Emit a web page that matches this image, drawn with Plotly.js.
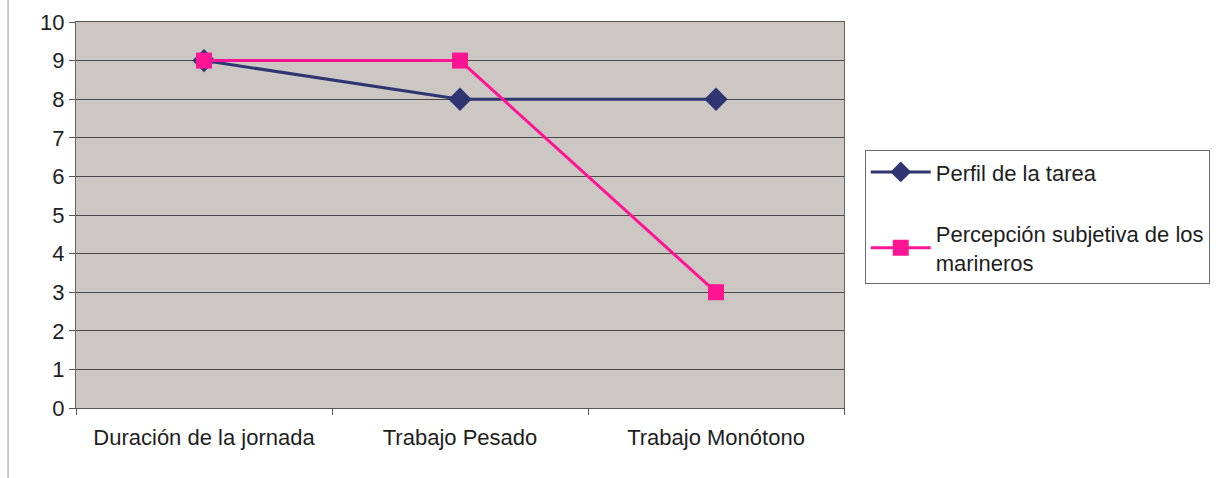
<!DOCTYPE html>
<html>
<head>
<meta charset="utf-8">
<script src="https://cdn.plot.ly/plotly-3.0.1.min.js"></script>
<style>html,body{margin:0;padding:0;background:#fff;}#chart{width:1222px;height:478px;}</style>
</head>
<body>
<div id="chart"></div>
<script>
const categories = ["Duración de la jornada", "Trabajo Pesado", "Trabajo Monótono"];
const perfilTarea = [9, 8, 8];
const percepcionMarineros = [9, 9, 3];
const seriesNames = ["Perfil de la tarea", "Percepción subjetiva de los<br>marineros"];
const yTicks = [0, 1, 2, 3, 4, 5, 6, 7, 8, 9, 10];

const font = {family: "Liberation Sans, Arial, sans-serif", size: 22, color: "#1e1e1e"};

const traces = [
  {
    x: categories, y: perfilTarea, name: seriesNames[0], type: "scatter", mode: "lines+markers",
    line: {color: "#2e3570", width: 3},
    marker: {symbol: "diamond", size: 18, color: "#2e3570"},
    legendgroup: "a"
  },
  {
    x: categories, y: percepcionMarineros, name: seriesNames[1], type: "scatter", mode: "lines+markers",
    line: {color: "#ff1493", width: 3},
    marker: {symbol: "square", size: 16, color: "#ff1493"},
    legendgroup: "b"
  }
];

const layout = {
  width: 1222, height: 478,
  margin: {l: 76, r: 376, t: 22, b: 70},
  paper_bgcolor: "#ffffff",
  plot_bgcolor: "#ccc7c3",
  font: font,
  showlegend: true,
  legend: {
    x: 1.027, y: 0.668, xanchor: "left", yanchor: "top",
    bgcolor: "#ffffff", bordercolor: "#6a6a6a", borderwidth: 1,
    font: font, traceorder: "grouped", tracegroupgap: 30, itemwidth: 60
  },
  xaxis: {
    type: "category", range: [-0.5, 2.5],
    showgrid: false, showline: true, linecolor: "#555", linewidth: 1, mirror: true,
    ticks: "outside", ticklen: 6, tickcolor: "#555", tickson: "boundaries",
    tickfont: font, ticklabelstandoff: 10
  },
  yaxis: {
    range: [0, 10], tickvals: yTicks, ticktext: yTicks.map(String),
    showgrid: true, gridcolor: "#4a4a4a", gridwidth: 1,
    showline: true, linecolor: "#666", linewidth: 1, mirror: true,
    ticks: "outside", ticklen: 6, tickcolor: "#555",
    zeroline: false, tickfont: font
  },
  shapes: [
    {type: "line", xref: "paper", yref: "paper", x0: -0.0885, x1: -0.0885, y0: -0.2, y1: 1.06,
     line: {color: "#9a9a9a", width: 1}}
  ]
};

Plotly.newPlot("chart", traces, layout, {displayModeBar: false, staticPlot: true});
</script>
</body>
</html>
